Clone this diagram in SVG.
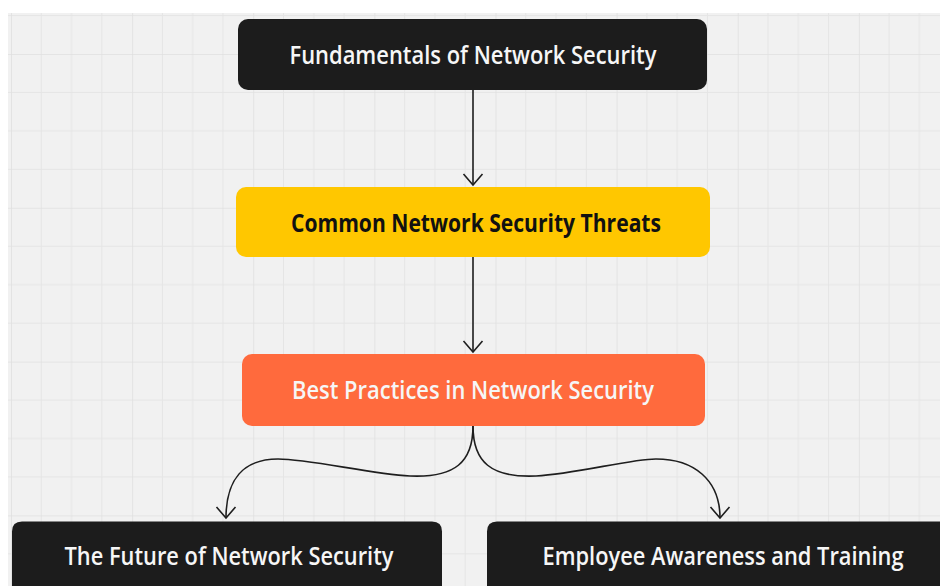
<svg xmlns="http://www.w3.org/2000/svg" width="940" height="586" viewBox="0 0 940 586">
  <defs>
    <style>
      .label { font-family: "Open Sans", "Liberation Sans", sans-serif; font-size: 25px; font-weight: 600; text-anchor: middle; }
      .light { fill: #f6f6f6; }
      .dark { fill: #111111; font-weight: 700; }
      .edge { fill: none; stroke: #1e1e1e; stroke-width: 1.6; }
      .minor { stroke: #e5e5e5; stroke-width: 1; }
      .major { stroke: #e0e0e0; stroke-width: 1.6; }
    </style>
    <pattern id="grid" patternUnits="userSpaceOnUse" x="11" y="54" width="121.12" height="153.8">
      <rect width="121.12" height="153.8" fill="#f1f1f1"/>
      <path class="minor" d="M30.28,0V153.8M60.56,0V153.8M90.84,0V153.8M0,38.45H121.12M0,76.9H121.12M0,115.35H121.12"/>
      <path class="major" d="M0,0V153.8M0,0H121.12"/>
    </pattern>
    <marker id="arrow" viewBox="-13 -11 15 22" refX="0" refY="0" markerWidth="15" markerHeight="22" markerUnits="userSpaceOnUse" orient="auto" overflow="visible">
      <path d="M-11,-9.5 L0,0 L-11,9.5" fill="none" stroke="#1e1e1e" stroke-width="1.6" stroke-linejoin="miter"/>
    </marker>
  </defs>

  <!-- canvas -->
  <rect width="940" height="586" fill="#ffffff"/>
  <rect x="8" y="13" width="932" height="573" fill="url(#grid)"/>

  <!-- connectors -->
  <g id="connectors">
    <path class="edge" d="M473,90 V185" marker-end="url(#arrow)"/>
    <path class="edge" d="M473,257 V352" marker-end="url(#arrow)"/>
    <path class="edge" d="M473,426 C473,462 455,478 410,476 C370,474 310,459 278,459 C243,459 226,480 226,518" marker-end="url(#arrow)"/>
    <path class="edge" d="M473,426 C473,462 491,478 536,476 C576,474 630,459 656,459 C694,459 720,480 720,518" marker-end="url(#arrow)"/>
  </g>

  <g id="fundamentals">
    <rect x="238" y="19" width="469" height="71" rx="10" fill="#1c1c1c"/>
    <text class="label light" x="473" y="64" textLength="367" lengthAdjust="spacingAndGlyphs">Fundamentals of Network Security</text>
  </g>

  <g id="threats">
    <rect x="236" y="187" width="474" height="70" rx="10" fill="#ffc700"/>
    <text class="label dark" x="476" y="231.5" textLength="370" lengthAdjust="spacingAndGlyphs">Common Network Security Threats</text>
  </g>

  <g id="best-practices">
    <rect x="242" y="354" width="463" height="72" rx="10" fill="#ff6a3d"/>
    <text class="label light" x="473" y="398.5" textLength="362" lengthAdjust="spacingAndGlyphs">Best Practices in Network Security</text>
  </g>

  <!-- bottom row runs past the lower (and right) edge of the canvas -->
  <g id="future">
    <path d="M12,586 V531.5 Q12,521.5 22,521.5 H432 Q442,521.5 442,531.5 V586 Z" fill="#1c1c1c"/>
    <text class="label light" x="229" y="565" textLength="329" lengthAdjust="spacingAndGlyphs">The Future of Network Security</text>
  </g>

  <g id="awareness">
    <path d="M487,586 V531.5 Q487,521.5 497,521.5 H940 V586 Z" fill="#1c1c1c"/>
    <text class="label light" x="723" y="565" textLength="361" lengthAdjust="spacingAndGlyphs">Employee Awareness and Training</text>
  </g>
</svg>
